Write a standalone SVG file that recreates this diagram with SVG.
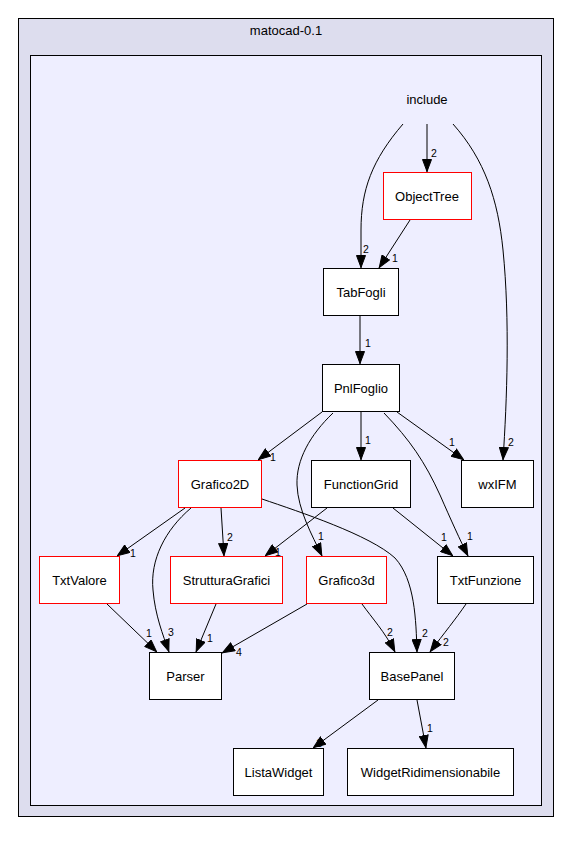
<svg xmlns="http://www.w3.org/2000/svg" width="572" height="846" viewBox="0 0 572 846">
<style>
.n rect{fill:#ffffff;stroke:#000000;stroke-width:1}
.n.r rect{stroke:#ff0000}
.n text{font-family:"Liberation Sans",Arial,sans-serif;font-size:13px;text-anchor:middle;fill:#000}
.e path{fill:none;stroke:#000;stroke-width:1;marker-end:url(#ah)}
.e text{font-family:"Liberation Sans",Arial,sans-serif;font-size:10.5px;fill:#000}
.t{font-family:"Liberation Sans",Arial,sans-serif;font-size:13px;text-anchor:middle;fill:#000}
</style>
<defs>
<marker id="ah" viewBox="0 0 13 10" refX="13" refY="5" markerWidth="13" markerHeight="10" markerUnits="userSpaceOnUse" orient="auto">
<path d="M0.5,0.5 L12.5,5 L0.5,9.5 z" fill="#000" stroke="#000" stroke-width="1"/>
</marker>
</defs>
<rect width="572" height="846" fill="#ffffff"/>
<g id="cluster-outer">
<rect x="18.5" y="18.5" width="535" height="798" fill="#ddddee" stroke="#000"/>
<text class="t" x="286" y="35">matocad-0.1</text>
</g>
<g id="cluster-inner">
<rect x="30.5" y="55.5" width="511" height="750" fill="#eeeeff" stroke="#000"/>
</g>
<g id="include">
<text class="t" x="427" y="104">include</text>
</g>
<g class="n r" id="ObjectTree"><rect x="383.5" y="172.5" width="88" height="47"/><text x="427" y="200.5">ObjectTree</text></g>
<g class="n" id="TabFogli"><rect x="323.5" y="268.5" width="75" height="47"/><text x="361" y="296.5">TabFogli</text></g>
<g class="n" id="PnlFoglio"><rect x="322.5" y="364.5" width="77" height="47"/><text x="361" y="392.5">PnlFoglio</text></g>
<g class="n r" id="Grafico2D"><rect x="178.5" y="460.5" width="83" height="47"/><text x="220" y="488.5">Grafico2D</text></g>
<g class="n" id="FunctionGrid"><rect x="311.5" y="460.5" width="99" height="47"/><text x="361" y="488.5">FunctionGrid</text></g>
<g class="n" id="wxIFM"><rect x="461.5" y="460.5" width="72" height="47"/><text x="497.5" y="488.5">wxIFM</text></g>
<g class="n r" id="TxtValore"><rect x="39.5" y="556.5" width="80" height="47"/><text x="79.5" y="584.5">TxtValore</text></g>
<g class="n r" id="StrutturaGrafici"><rect x="170.5" y="556.5" width="112" height="47"/><text x="226.5" y="584.5">StrutturaGrafici</text></g>
<g class="n r" id="Grafico3d"><rect x="306.5" y="556.5" width="80" height="47"/><text x="346.5" y="584.5">Grafico3d</text></g>
<g class="n" id="TxtFunzione"><rect x="437.5" y="556.5" width="96" height="47"/><text x="485.5" y="584.5">TxtFunzione</text></g>
<g class="n" id="Parser"><rect x="149.5" y="652.5" width="72" height="47"/><text x="185.5" y="680.5">Parser</text></g>
<g class="n" id="BasePanel"><rect x="369.5" y="652.5" width="85" height="47"/><text x="412" y="680.5">BasePanel</text></g>
<g class="n" id="ListaWidget"><rect x="233.5" y="748.5" width="90" height="47"/><text x="278.5" y="776.5">ListaWidget</text></g>
<g class="n" id="WidgetRidimensionabile"><rect x="347.5" y="748.5" width="166" height="47"/><text x="430.5" y="776.5">WidgetRidimensionabile</text></g>
<g class="e" id="edges">
<path d="M427,124 L427,172"/><text x="431" y="157">2</text>
<path d="M403,124 C372,160 361,190 361,230 L361,268"/><text x="363" y="253">2</text>
<path d="M453,124 C485,160 498,200 503,250 C510,320 507,400 503,460"/><text x="508" y="446">2</text>
<path d="M410,220 L379,268"/><text x="392" y="262">1</text>
<path d="M360,316 L360,364"/><text x="365" y="347">1</text>
<path d="M322,412 L258,460"/><text x="270" y="461">1</text>
<path d="M361,412 L361,460"/><text x="365" y="444">1</text>
<path d="M397,412 L464,460"/><text x="449" y="446">1</text>
<path d="M384,413 C410,440 425,462 440,495 C451,520 460,540 468,556"/><text x="467" y="540">1</text>
<path d="M333,413 C310,435 296,460 297,485 C298,510 312,535 322,556"/><text x="318" y="540">1</text>
<path d="M393,508 L453,556"/><text x="441" y="541">1</text>
<path d="M327,508 L265,556"/><text x="275" y="556">1</text>
<path d="M221,508 L224,556"/><text x="227" y="541">2</text>
<path d="M185,508 L117,556"/><text x="130" y="557">1</text>
<path d="M191,508 C165,530 150,560 153,590 C155,615 163,635 169,652"/><text x="168" y="636">3</text>
<path d="M262,499 C300,512 370,535 395,558 C415,580 416,620 417,652"/><text x="422" y="637">2</text>
<path d="M107,604 L157,652"/><text x="146" y="637">1</text>
<path d="M216,604 L196,652"/><text x="207" y="642">1</text>
<path d="M307,604 L222,653"/><text x="236" y="656">4</text>
<path d="M362,604 C372,618 385,632 395,652"/><text x="387" y="636">2</text>
<path d="M466,604 C455,620 445,632 430,652"/><text x="443" y="646">2</text>
<path d="M378,700 L313,748"/><text x="316" y="747">1</text>
<path d="M417,700 L426,748"/><text x="427" y="732">1</text>
</g>
</svg>
